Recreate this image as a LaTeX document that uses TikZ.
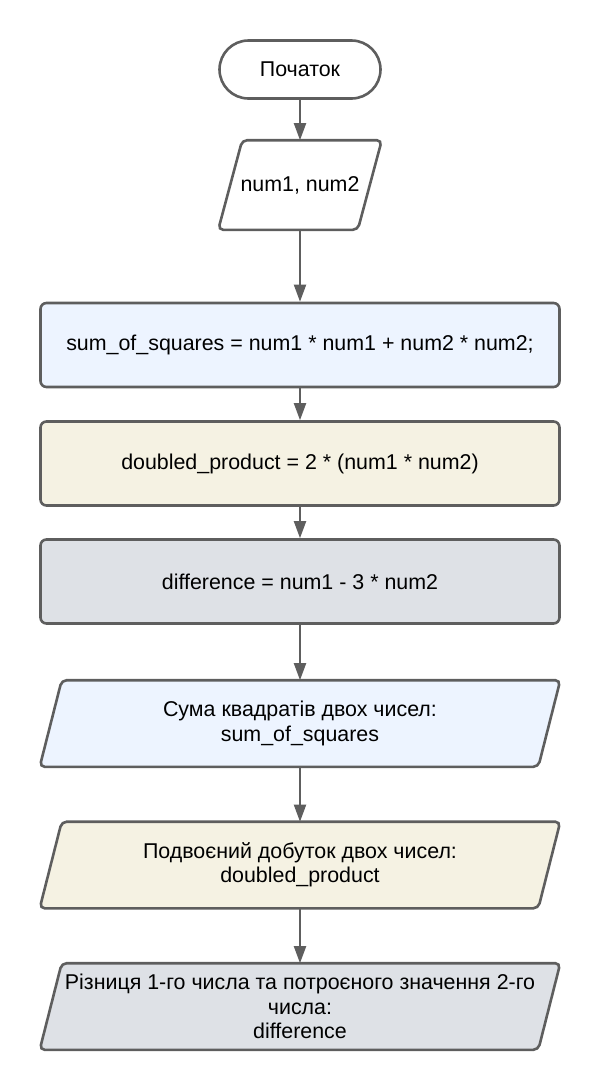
\documentclass[tikz,border=0pt]{standalone}
\usepackage{fontspec}
\setmainfont{Liberation Sans}
\usetikzlibrary{arrows.meta,backgrounds}
\definecolor{edge}{HTML}{5E5E5E}
\definecolor{blueish}{HTML}{EDF4FF}
\definecolor{beige}{HTML}{F5F2E3}
\definecolor{greyish}{HTML}{DEE1E6}
\begin{document}
\begin{tikzpicture}[x=1pt,y=-1pt,
    every node/.style={font=\fontsize{21.4}{24.5}\selectfont,align=center},
    box/.style={draw=edge,line width=2.6pt,rounded corners=6pt,
      minimum width=519pt,minimum height=84pt,inner sep=2pt},
    io/.style={minimum width=496pt,minimum height=84pt,inner sep=1pt,outer sep=1.3pt},
    para/.style={draw=edge,line width=2.6pt,rounded corners=5pt},
    arr/.style={draw=edge,line width=2pt,-{Triangle[width=12pt,length=17pt]}}]
    \useasboundingbox (0,0) rectangle (600,1090);
    \def\pp(#1)#2#3{% parallelogram behind node #1, half slant #2, fill #3
      \begin{scope}[on background layer]
        \draw[para,fill=#3] ([xshift=#2pt]#1.north west) -- ([xshift=#2pt]#1.north east)
          -- ([xshift=-#2pt]#1.south east) -- ([xshift=-#2pt]#1.south west) -- cycle;
      \end{scope}
    }
    \node[draw=edge,line width=2.6pt,rounded corners=29pt,minimum width=161pt,
      minimum height=58pt,fill=white] (start) at (300,69.5) {Початок};
    \node[io,minimum width=137pt,minimum height=87pt] (input) at (300,185) {num1, num2};
    \node[box,fill=blueish] (sum) at (300,345) {sum\_of\_squares = num1 * num1 + num2 * num2;};
    \node[box,fill=beige] (prod) at (300,463.5) {doubled\_product = 2 * (num1 * num2)};
    \node[box,fill=greyish] (diff) at (300,581.5) {difference = num1 - 3 * num2};
    \node[io] (outsum) at (300,723.5) {Сума квадратів двох чисел:\\sum\_of\_squares};
    \node[io] (outprod) at (300,865) {Подвоєний добуток двох чисел:\\doubled\_product};
    \node[io] (outdiff) at (300,1006.5) {Різниця 1-го числа та потроєного значення 2-го\\числа:\\difference};
    \pp(input){12}{white}
    \pp(outsum){11}{blueish}
    \pp(outprod){11}{beige}
    \pp(outdiff){11}{greyish}
    \foreach \a/\b in {start/input,input/sum,sum/prod,prod/diff,diff/outsum,outsum/outprod,outprod/outdiff} {
      \draw[arr] (\a) -- (\b);
    }
  \end{tikzpicture}
\end{document}
